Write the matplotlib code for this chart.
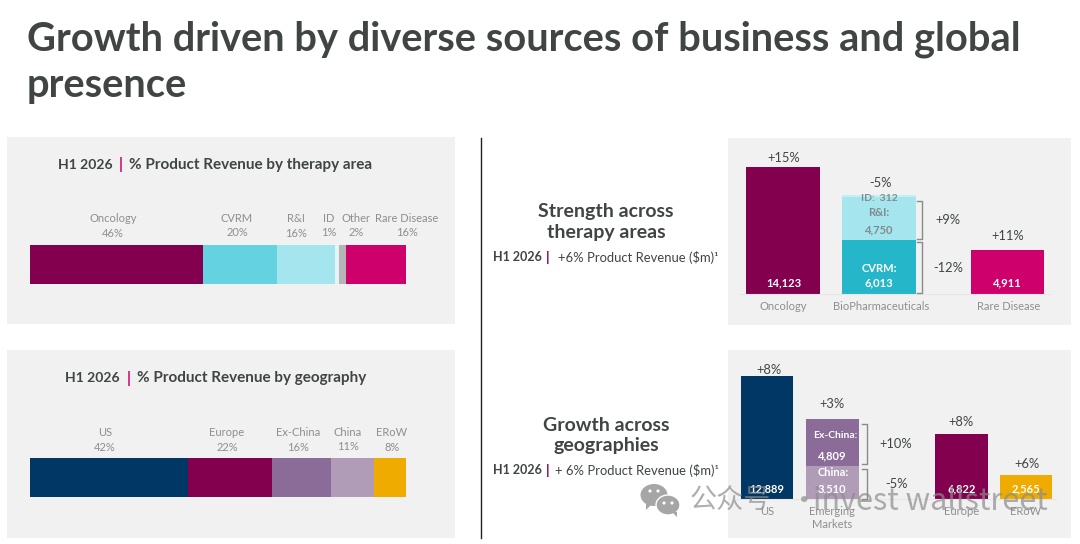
import matplotlib
matplotlib.use("Agg")
import matplotlib.pyplot as plt
from matplotlib.patches import Rectangle, Ellipse, Polygon

# ---------- data ----------
therapy_share_labels = ["Oncology", "CVRM", "R&I", "ID", "Other", "Rare Disease"]
therapy_share_pct = ["46%", "20%", "16%", "1%", "2%", "16%"]
therapy_share_values = [14123, 6013, 4750, 312, 560, 4911]

geo_share_labels = ["US", "Europe", "Ex-China", "China", "ERoW"]
geo_share_pct = ["42%", "22%", "16%", "11%", "8%"]
geo_share_values = [12889, 6822, 4809, 3510, 2565]

therapy_cats = ["Oncology", "BioPharmaceuticals", "Rare Disease"]
therapy_base = [14123, 6013, 4911]
therapy_ri = 4750
therapy_id = 312

geo_cats = ["US", "Emerging\nMarkets", "Europe", "ERoW"]
geo_base = [12889, 3510, 6822, 2565]
geo_exchina = 4809

# ---------- style ----------
W, H = 1080, 544
FONT = ["Lato", "Noto Sans CJK SC", "DejaVu Sans"]
plt.rcParams["font.family"] = FONT
DARK = "#404544"
GREY = "#8E8E8E"
PANEL = "#F1F1F1"
PLUM = "#83004F"
MAGENTA = "#CE006C"
NAVY = "#003764"
CYAN = "#64D2E0"
CYAN_D = "#26B6C9"
CYAN_L = "#A5E5EE"
CYAN_XL = "#C5EFF4"
ID_C = "#E6F3F6"
OTHER = "#B5B5B5"
PURPLE = "#8B6C98"
PURPLE_L = "#B09CB7"
GOLD = "#F0AB00"

fig = plt.figure(figsize=(W / 100, H / 100), dpi=100, facecolor="white")


def px_axes(x0, y0, x1, y1, z=1):
    ax = fig.add_axes([x0 / W, 1 - y1 / H, (x1 - x0) / W, (y1 - y0) / H], zorder=z)
    ax.patch.set_alpha(0)
    return ax


bg = px_axes(0, 0, W, H, 0)
bg.set_xlim(0, W); bg.set_ylim(H, 0); bg.axis("off")
fg = px_axes(0, 0, W, H, 3)
fg.set_xlim(0, W); fg.set_ylim(H, 0); fg.axis("off")


def T(x, y, s, size=8, color=DARK, weight="normal", ha="center", ax=fg, **kw):
    return ax.text(x, y + 1, s, fontsize=size, color=color, fontweight=weight,
                   ha=ha, va="center", **kw)


# panels and divider
for x0, y0, x1, y1 in [(7, 137, 455, 324), (7, 350, 455, 538),
                       (728, 138, 1071, 325), (728, 350, 1071, 538)]:
    bg.add_patch(Rectangle((x0, y0), x1 - x0, y1 - y0, fc=PANEL, ec="none"))
bg.plot([480.5, 480.5], [138, 538], color="#222222", lw=1.0)

# title
T(27, 38, "Growth driven by diverse sources of business and global", 28.7, DARK, "bold", "left")
T(27, 85, "presence", 28.7, DARK, "bold", "left")


def heading(x1, x2, x3, y, rest, size=11):
    T(x1, y, "H1 2026", size - 1, DARK, "bold", "left")
    T(x2, y, "|", size, MAGENTA, "bold", "center")
    T(x3, y, rest, size, DARK, "bold", "left")


heading(58, 121, 129, 164, "% Product Revenue by therapy area")
heading(65, 129, 137, 377, "% Product Revenue by geography")


def share_bar(y0, y1, values, colors):
    ax = px_axes(30, y0, 406, y1)
    ax.set_xlim(0, sum(values)); ax.set_ylim(0, 1); ax.axis("off")
    left = 0
    for v, c in zip(values, colors):
        ax.barh(0.5, v, 1, left=left, color=c, linewidth=0)
        left += v


share_bar(245, 283.5, therapy_share_values, [PLUM, CYAN, CYAN_L, ID_C, OTHER, MAGENTA])
share_bar(458, 497, geo_share_values, [NAVY, PLUM, PURPLE, PURPLE_L, GOLD])

for s, p, x, y in zip(therapy_share_labels, therapy_share_pct,
                      [113, 237, 296, 329, 356, 407], [218, 217, 218, 217, 217, 217]):
    T(x, y, s, 8, GREY)
    T(x, y + 14.5, p, 8, GREY)
for s, p, x, y in zip(geo_share_labels, geo_share_pct,
                      [105, 227, 298, 348, 392], [432, 432, 432, 431, 432]):
    T(x, y, s, 8, GREY)
    T(x, y + 14.5, p, 8, GREY)

# middle headings
T(606, 210.5, "Strength across", 14, DARK, "bold")
T(606, 231.5, "therapy areas", 14, DARK, "bold")
T(606, 424.5, "Growth across", 14, DARK, "bold")
T(606, 444.5, "geographies", 14, DARK, "bold")
for y, rest, x3 in [(256, "+6% Product Revenue ($m)¹", 558), (469.5, "+ 6% Product Revenue ($m)¹", 555)]:
    T(493, y, "H1 2026", 9, DARK, "bold", "left")
    T(548, y, "|", 10, PLUM, "bold")
    T(x3, y, rest, 9.4, DARK, "normal", "left")


def column_axes(y0, y1, scale, xpos, labels, xspan):
    ax = px_axes(728, y0, 1071, y1)
    ax.set_xlim(728, 1071)
    ax.set_ylim(0, (y1 - y0) / scale)
    for s in ["top", "left", "right"]:
        ax.spines[s].set_visible(False)
    ax.spines["bottom"].set_color("#E6E6E6")
    ax.spines["bottom"].set_bounds(*xspan)
    ax.set_yticks([])
    ax.set_xticks(xpos, labels, fontsize=8, color=GREY, linespacing=1.15)
    ax.tick_params(axis="x", length=0, pad=5)
    return ax


# therapy columns
t_pos = [783, 879, 1007]
ax1 = column_axes(138, 294.3, 0.009, [783, 881, 1008.5], therapy_cats, (740, 1050))
ax1.bar(t_pos, therapy_base, [74, 74, 73], color=[PLUM, CYAN_D, MAGENTA], linewidth=0)
ax1.bar(t_pos[1], therapy_ri, 74, bottom=therapy_base[1], color=CYAN_L, linewidth=0)
ax1.bar(t_pos[1], therapy_id, 74, bottom=therapy_base[1] + therapy_ri, color=CYAN_XL, linewidth=0)

# geography columns
g_pos = [767, 832, 961.5, 1026]
ax2 = column_axes(350, 499.3, 0.0096, g_pos, geo_cats, (736, 1056))
ax2.bar(g_pos, geo_base, [52, 53, 53, 52], color=[NAVY, PURPLE_L, PLUM, GOLD], linewidth=0)
ax2.bar(g_pos[1], geo_exchina, 53, bottom=geo_base[1], color=PURPLE, linewidth=0)

# column texts
for x, y, s in [(784, 156.5, "+15%"), (881, 182, "-5%"), (948, 219, "+9%"),
                (948, 267, "-12%"), (1008, 235.5, "+11%"),
                (769, 368.5, "+8%"), (832, 402.5, "+3%"), (896, 443.5, "+10%"),
                (896, 483.5, "-5%"), (961, 421.5, "+8%"), (1026.5, 463.5, "+6%")]:
    T(x, y, s, 9.3, DARK)

WHITE = "#FFFFFF"
T(784, 282, f"{therapy_base[0]:,}", 8, WHITE, "bold")
T(879.5, 267.5, "CVRM:", 8, WHITE, "bold")
T(879, 282, f"{therapy_base[1]:,}", 8, WHITE, "bold")
T(1007, 282, f"{therapy_base[2]:,}", 8, WHITE, "bold")
T(879, 211.5, "R&I:", 8, "#7F8C8F", "bold")
T(879, 228.5, f"{therapy_ri:,}", 8, "#7F8C8F", "bold")
T(879, 197.2, f"ID:  {therapy_id}", 7.5, "#7F8C8F", "bold")

T(767, 487.5, f"{geo_base[0]:,}", 8, WHITE, "bold")
T(835, 434.5, "Ex-China:", 7.5, WHITE, "bold")
T(832, 454.5, f"{geo_exchina:,}", 8, WHITE, "bold")
T(833, 472, "China:", 8, WHITE, "bold")
T(832, 487.5, f"{geo_base[1]:,}", 8, WHITE, "bold")
T(961.7, 487.5, f"{geo_base[2]:,}", 8, WHITE, "bold")
T(1026, 487.5, f"{geo_base[3]:,}", 8, WHITE, "bold")

# brackets
for x_in, x_out, y0, y1 in [(917, 922, 200.7, 239), (917, 922, 241.7, 293),
                            (862, 867, 423.7, 464.3), (862, 867, 469, 499)]:
    fg.plot([x_in, x_out, x_out, x_in], [y0, y0, y1, y1], color="#8A8A8A", lw=1.0)

# watermark
WM = "#8C8C8C"
CJK = ["Noto Sans CJK SC", "DejaVu Sans"]
for x, s, fs in [(690, "公众号", 19.5), (789, "·", 22), (813, "invest wallstreet", 22)]:
    fg.text(x, 501, s, fontsize=fs, color=WM, alpha=0.7, family=CJK, ha="left", va="center")
ICON = "#A6A6A6"
fg.add_patch(Ellipse((654, 495), 27, 22, fc=ICON, ec="none"))
fg.add_patch(Polygon([(646, 503), (651, 505), (646, 510)], fc=ICON, ec="none"))
fg.add_patch(Ellipse((668, 505), 24, 20, fc=ICON, ec="white", lw=1.0))
fg.add_patch(Polygon([(672, 512), (677, 512), (677, 517)], fc=ICON, ec="none"))
for ex, ey in [(650, 491), (658, 491), (664, 503), (672, 503)]:
    fg.add_patch(Ellipse((ex, ey), 3.2, 3.2, fc="white", ec="none"))

fig.savefig("out.png", dpi=100, facecolor="white")
